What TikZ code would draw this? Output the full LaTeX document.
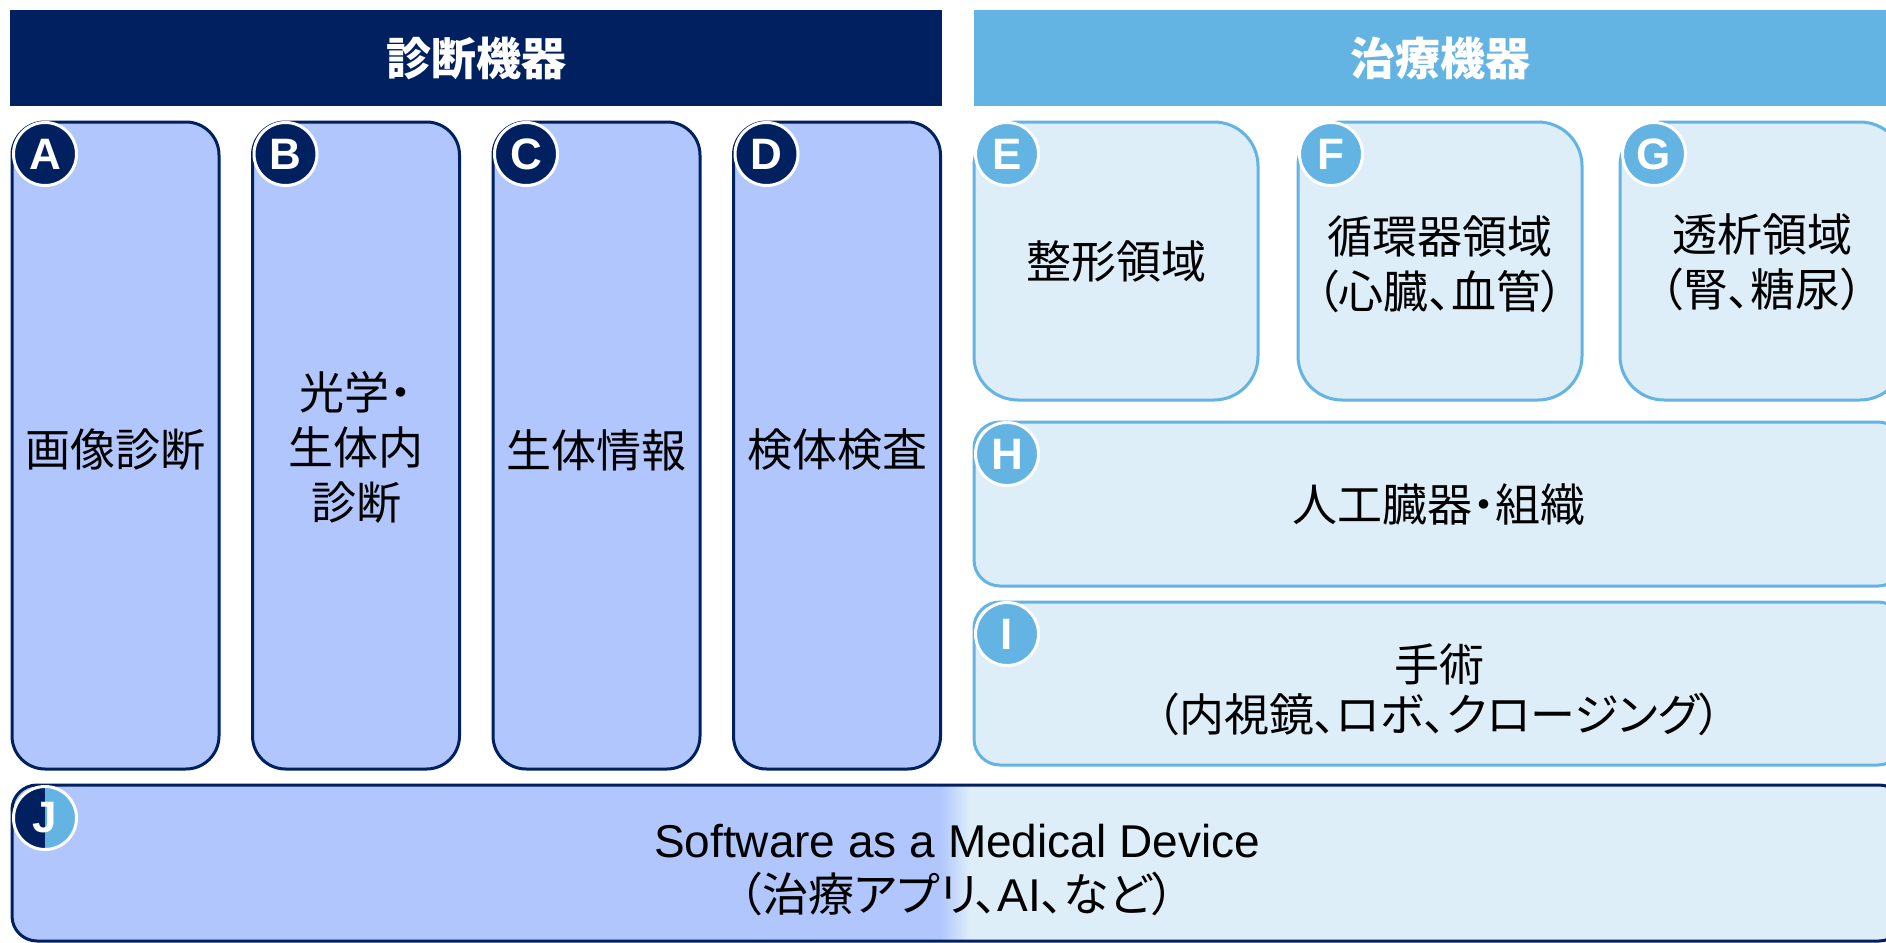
\documentclass[tikz,border=0pt]{standalone}
\usepackage{fontspec}
\setmainfont{Liberation Sans}
\newfontfamily\jp[RawFeature=+palt]{Noto Sans CJK JP}
\definecolor{navy}{RGB}{0,32,96}
\definecolor{sky}{RGB}{99,179,227}
\definecolor{fillA}{RGB}{176,198,253}
\definecolor{fillE}{RGB}{222,238,249}
\begin{document}
\begin{tikzpicture}[x=1pt,y=-1pt,
  hdr/.style={inner sep=0pt, outer sep=0pt, text=white, font=\jp\bfseries\fontsize{45}{55}\selectfont},
  dbox/.style={draw=navy, line width=3pt, fill=fillA, inner sep=0pt, rounded corners=33pt},
  tbox/.style={draw=sky, line width=3pt, fill=fillE, inner sep=0pt},
  txt/.style={inner sep=0pt, align=center, text=black, font=\jp\fontsize{45}{55}\selectfont},
  badge/.style={circle, draw=white, line width=3pt, minimum size=63pt, inner sep=0pt, text=white, font=\bfseries\fontsize{44}{44}\selectfont},
]
\clip (0,0) rectangle (1886,942);
\fill[white] (0,0) rectangle (1886,942);

% headers
\node[hdr, fill=navy, minimum width=932pt, minimum height=96pt] (hd) at (476,58) {診断機器};
\node[hdr, fill=sky, minimum width=932pt, minimum height=96pt] (ht) at (1440,58) {治療機器};

% diagnostic boxes
\node[dbox, minimum width=207pt, minimum height=647pt] (A) at (115.5,445.5) {};
\node[dbox, minimum width=207pt, minimum height=647pt] (B) at (356,445.5) {};
\node[dbox, minimum width=207pt, minimum height=647pt] (C) at (596.5,445.5) {};
\node[dbox, minimum width=207pt, minimum height=647pt] (D) at (837,445.5) {};
\node[txt] (tA) at (115.5,450) {画像診断};
\node[txt] (tB) at (356,447) {光学・\\生体内\\診断};
\node[txt] (tC) at (596.5,450) {生体情報};
\node[txt] (tD) at (837,450) {検体検査};

% therapy boxes
\node[tbox, rounded corners=44pt, minimum width=284pt, minimum height=278pt] (E) at (1116,261) {};
\node[tbox, rounded corners=44pt, minimum width=284pt, minimum height=278pt] (F) at (1440,261) {};
\node[tbox, rounded corners=44pt, minimum width=284pt, minimum height=278pt] (G) at (1762,261) {};
\node[tbox, rounded corners=26pt, minimum width=930pt, minimum height=164pt] (H) at (1439,504) {};
\node[tbox, rounded corners=26pt, minimum width=930pt, minimum height=163pt] (I) at (1439,683.5) {};
\node[txt] (tE) at (1116,262) {整形領域};
\node[txt] (tF) at (1440,264) {循環器領域\\（心臓、血管）};
\node[txt] (tG) at (1762,262) {透析領域\\（腎、糖尿）};
\node[txt] (tH) at (1439,505) {人工臓器・組織};
\node[txt, font=\jp\fontsize{45}{50}\selectfont] (tI) at (1439,690) {手術\\（内視鏡、ロボ、クロージング）};

% SaMD box with gradient fill
\begin{scope}
  \clip[rounded corners=25pt] (12,785) rectangle (1904,941);
  \fill[fillA] (0,780) rectangle (940,950);
  \shade[left color=fillA, right color=fillE] (940,780) rectangle (970,950);
  \fill[fillE] (970,780) rectangle (1910,950);
\end{scope}
\node[draw=navy, line width=3pt, rounded corners=25pt, inner sep=0pt, minimum width=1892pt, minimum height=156pt] (J) at (958,863) {};
\node[txt, font=\fontsize{46}{54}\selectfont] (tJ) at (957,870) {Software as a Medical Device\\{\jp （治療アプリ、}AI{\jp 、など）}};

% badges
\node[badge, fill=navy] (bA) at (45,154) {A};
\node[badge, fill=navy] (bB) at (285.5,154) {B};
\node[badge, fill=navy] (bC) at (526,154) {C};
\node[badge, fill=navy] (bD) at (766.5,154) {D};
\node[badge, fill=sky] (bE) at (1007,154) {E};
\node[badge, fill=sky] (bF) at (1331,154) {F};
\node[badge, fill=sky] (bG) at (1654,154) {G};
\node[badge, fill=sky] (bH) at (1007,454) {H};
\node[badge, fill=sky] (bI) at (1007,634) {I};
\node[badge, path picture={
   \fill[navy] (path picture bounding box.south west) rectangle (path picture bounding box.north);
   \fill[sky] (path picture bounding box.north) rectangle (path picture bounding box.south east);}] (bJ) at (45,818) {J};
\end{tikzpicture}
\end{document}
